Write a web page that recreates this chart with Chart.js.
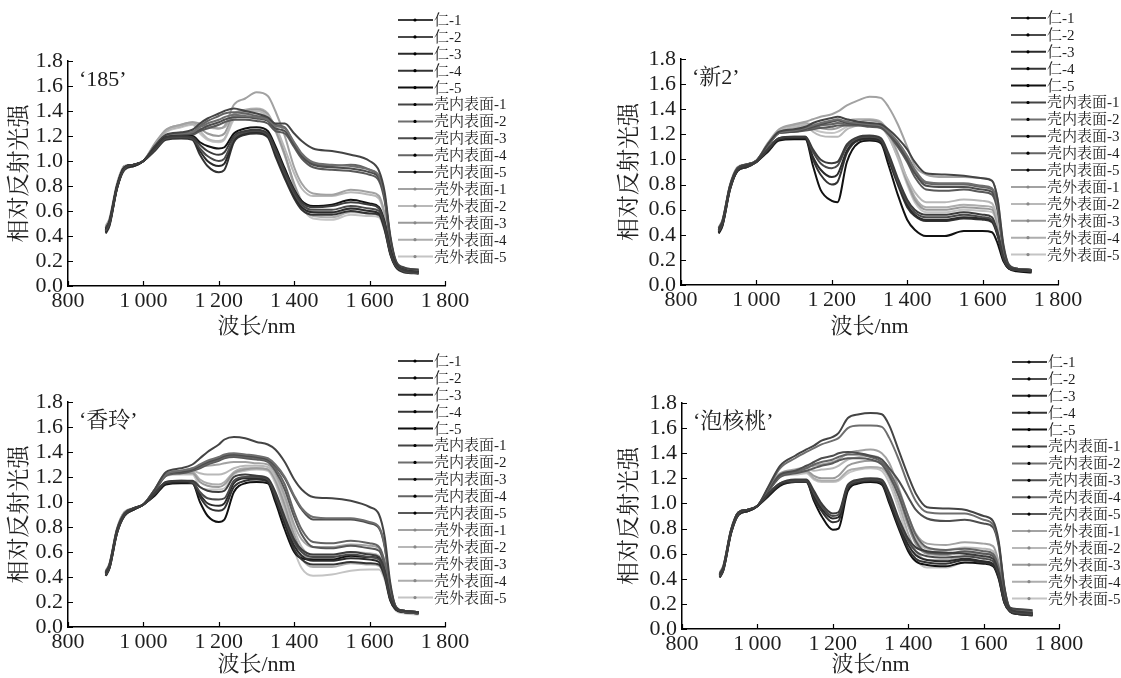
<!DOCTYPE html>
<html>
<head>
<meta charset="utf-8">
<script src="https://cdn.jsdelivr.net/npm/chart.js@4.4.0/dist/chart.umd.min.js"></script>
<style>
  body { margin: 0; background: #fff; width: 1121px; height: 678px; overflow: hidden; position: relative; }
  .panel { position: absolute; }
</style>
</head>
<body>
<div class="panel" style="left:0;top:0;width:600px;height:340px"><canvas id="c0"></canvas></div>
<div class="panel" style="left:610px;top:0;width:511px;height:340px"><canvas id="c1"></canvas></div>
<div class="panel" style="left:0;top:340px;width:600px;height:338px"><canvas id="c2"></canvas></div>
<div class="panel" style="left:610px;top:340px;width:511px;height:338px"><canvas id="c3"></canvas></div>
<script>
// wavelength (nm) at which every curve was read
const wavelengths = [900, 910, 930, 950, 975, 1000, 1030, 1060, 1100, 1130, 1150, 1170, 1200, 1215, 1240, 1270,
  1300, 1330, 1350, 1375, 1400, 1420, 1450, 1500, 1550, 1600, 1625, 1640, 1655, 1670, 1690, 1730];

const seriesNames = ['仁-1', '仁-2', '仁-3', '仁-4', '仁-5',
  '壳内表面-1', '壳内表面-2', '壳内表面-3', '壳内表面-4', '壳内表面-5',
  '壳外表面-1', '壳外表面-2', '壳外表面-3', '壳外表面-4', '壳外表面-5'];

const seriesColors = ['#3c3c3c', '#4a4a4a', '#2a2a2a', '#333333', '#111111',
  '#444444', '#6e6e6e', '#4d4d4d', '#646464', '#585858',
  '#a2a2a2', '#b8b8b8', '#9a9a9a', '#adadad', '#c4c4c4'];

const xTicks = [800, 1000, 1200, 1400, 1600, 1800];
const yTicks = [0, 0.2, 0.4, 0.6, 0.8, 1.0, 1.2, 1.4, 1.6, 1.8];

const panelTitles = ['‘185’', '‘新2’', '‘香玲’', '‘泡核桃’'];

// '185'
const lines185 = [
  [0.46,0.52,0.80,0.95,0.97,1.00,1.10,1.19,1.20,1.19,1.13,1.08,1.05,1.07,1.20,1.24,1.25,1.22,1.10,0.92,0.76,0.67,0.63,0.64,0.67,0.65,0.62,0.50,0.28,0.17,0.13,0.11],
  [0.44,0.50,0.79,0.94,0.97,1.00,1.09,1.18,1.19,1.18,1.10,1.04,1.00,1.02,1.18,1.23,1.24,1.21,1.08,0.90,0.74,0.65,0.61,0.61,0.64,0.62,0.60,0.48,0.27,0.16,0.12,0.10],
  [0.43,0.49,0.78,0.94,0.96,1.00,1.09,1.18,1.19,1.18,1.08,1.00,0.96,0.98,1.17,1.22,1.23,1.20,1.06,0.88,0.72,0.63,0.59,0.59,0.62,0.60,0.58,0.46,0.26,0.15,0.12,0.10],
  [0.42,0.48,0.78,0.93,0.96,1.00,1.08,1.17,1.18,1.17,1.05,0.96,0.91,0.93,1.15,1.21,1.22,1.19,1.04,0.86,0.70,0.61,0.57,0.57,0.60,0.58,0.57,0.45,0.25,0.15,0.11,0.10],
  [0.45,0.51,0.80,0.95,0.97,1.00,1.10,1.19,1.20,1.20,1.15,1.12,1.10,1.11,1.22,1.26,1.27,1.24,1.12,0.94,0.77,0.68,0.64,0.65,0.69,0.66,0.63,0.51,0.29,0.17,0.13,0.11],
  [0.46,0.52,0.80,0.95,0.97,1.00,1.12,1.21,1.23,1.25,1.30,1.34,1.38,1.40,1.42,1.40,1.38,1.35,1.30,1.30,1.22,1.16,1.10,1.08,1.05,1.00,0.92,0.75,0.40,0.20,0.15,0.13],
  [0.45,0.51,0.79,0.95,0.97,1.00,1.11,1.20,1.22,1.23,1.27,1.30,1.33,1.35,1.37,1.36,1.35,1.33,1.28,1.26,1.15,1.06,0.99,0.97,0.96,0.93,0.88,0.72,0.38,0.19,0.14,0.13],
  [0.44,0.50,0.79,0.94,0.97,1.00,1.11,1.20,1.21,1.22,1.25,1.28,1.31,1.33,1.35,1.35,1.34,1.32,1.26,1.24,1.13,1.04,0.97,0.95,0.94,0.91,0.86,0.70,0.37,0.19,0.14,0.12],
  [0.45,0.51,0.79,0.95,0.97,1.00,1.11,1.20,1.22,1.23,1.28,1.32,1.36,1.38,1.39,1.38,1.36,1.34,1.29,1.27,1.14,1.05,0.98,0.96,0.97,0.93,0.87,0.71,0.38,0.19,0.14,0.12],
  [0.44,0.50,0.78,0.94,0.96,1.00,1.10,1.19,1.21,1.21,1.24,1.26,1.29,1.31,1.33,1.33,1.32,1.30,1.24,1.22,1.11,1.02,0.95,0.93,0.92,0.89,0.84,0.68,0.36,0.18,0.14,0.12],
  [0.48,0.54,0.82,0.96,0.97,1.00,1.14,1.25,1.29,1.31,1.30,1.28,1.26,1.28,1.45,1.50,1.55,1.52,1.40,1.20,0.95,0.82,0.74,0.73,0.77,0.75,0.72,0.58,0.33,0.18,0.14,0.13],
  [0.47,0.53,0.81,0.96,0.97,1.00,1.13,1.24,1.28,1.30,1.24,1.18,1.16,1.18,1.35,1.39,1.40,1.36,1.28,1.10,0.90,0.78,0.72,0.72,0.75,0.73,0.70,0.56,0.32,0.17,0.14,0.13],
  [0.46,0.52,0.80,0.95,0.97,1.00,1.13,1.24,1.28,1.30,1.26,1.22,1.20,1.22,1.37,1.40,1.41,1.37,1.25,1.05,0.82,0.68,0.59,0.58,0.62,0.60,0.58,0.47,0.28,0.16,0.13,0.12],
  [0.47,0.53,0.81,0.96,0.97,1.00,1.13,1.25,1.29,1.31,1.29,1.27,1.26,1.27,1.38,1.41,1.42,1.38,1.26,1.06,0.80,0.65,0.56,0.55,0.59,0.58,0.56,0.45,0.27,0.16,0.13,0.12],
  [0.46,0.52,0.80,0.95,0.97,1.00,1.12,1.23,1.27,1.29,1.22,1.17,1.15,1.17,1.33,1.37,1.38,1.35,1.24,1.04,0.80,0.64,0.54,0.53,0.57,0.56,0.55,0.44,0.26,0.15,0.13,0.12]
];

// '新2'
const linesXin2 = [
  [0.44,0.50,0.78,0.92,0.95,0.98,1.08,1.17,1.18,1.18,1.08,1.00,0.97,0.98,1.12,1.18,1.19,1.17,1.05,0.85,0.68,0.60,0.56,0.56,0.58,0.56,0.54,0.42,0.22,0.14,0.12,0.11],
  [0.43,0.49,0.77,0.92,0.95,0.98,1.08,1.17,1.18,1.18,1.06,0.97,0.93,0.95,1.10,1.17,1.18,1.16,1.03,0.83,0.66,0.58,0.54,0.54,0.56,0.54,0.52,0.41,0.22,0.14,0.12,0.11],
  [0.42,0.48,0.77,0.91,0.95,0.98,1.07,1.16,1.17,1.17,1.02,0.92,0.86,0.88,1.07,1.16,1.17,1.15,1.02,0.82,0.64,0.56,0.52,0.52,0.54,0.53,0.51,0.40,0.21,0.13,0.12,0.11],
  [0.42,0.48,0.76,0.91,0.94,0.98,1.07,1.16,1.17,1.17,1.00,0.88,0.80,0.82,1.05,1.15,1.16,1.14,1.00,0.80,0.62,0.55,0.51,0.51,0.53,0.52,0.50,0.39,0.21,0.13,0.12,0.11],
  [0.41,0.47,0.76,0.91,0.94,0.98,1.06,1.15,1.16,1.16,0.95,0.76,0.67,0.66,0.98,1.13,1.15,1.13,0.96,0.72,0.52,0.44,0.39,0.39,0.43,0.43,0.42,0.33,0.19,0.13,0.11,0.10],
  [0.45,0.51,0.79,0.93,0.96,0.99,1.12,1.22,1.24,1.26,1.29,1.31,1.33,1.34,1.32,1.30,1.29,1.28,1.24,1.17,1.08,0.98,0.89,0.88,0.87,0.85,0.83,0.68,0.32,0.16,0.13,0.12],
  [0.44,0.50,0.78,0.93,0.96,0.99,1.11,1.21,1.23,1.25,1.27,1.29,1.31,1.32,1.30,1.29,1.28,1.27,1.22,1.14,1.03,0.92,0.82,0.81,0.81,0.79,0.77,0.63,0.30,0.15,0.13,0.12],
  [0.44,0.50,0.78,0.93,0.96,0.99,1.11,1.21,1.22,1.24,1.26,1.28,1.30,1.31,1.29,1.28,1.27,1.26,1.21,1.12,1.00,0.89,0.79,0.78,0.78,0.76,0.74,0.61,0.30,0.15,0.13,0.12],
  [0.45,0.51,0.79,0.93,0.96,0.99,1.11,1.22,1.23,1.25,1.25,1.27,1.28,1.29,1.28,1.28,1.27,1.26,1.22,1.13,1.02,0.91,0.81,0.80,0.80,0.78,0.76,0.62,0.30,0.15,0.13,0.12],
  [0.43,0.49,0.78,0.92,0.95,0.99,1.10,1.21,1.22,1.23,1.24,1.25,1.26,1.27,1.27,1.27,1.26,1.25,1.20,1.10,0.98,0.86,0.76,0.75,0.76,0.74,0.72,0.59,0.29,0.15,0.13,0.12],
  [0.46,0.52,0.80,0.94,0.96,0.99,1.13,1.24,1.28,1.30,1.32,1.34,1.36,1.38,1.43,1.47,1.50,1.49,1.42,1.28,1.10,0.95,0.88,0.86,0.86,0.85,0.83,0.68,0.33,0.16,0.13,0.12],
  [0.45,0.51,0.79,0.93,0.96,0.99,1.12,1.23,1.26,1.28,1.22,1.19,1.18,1.18,1.24,1.27,1.28,1.26,1.18,1.02,0.85,0.74,0.66,0.66,0.68,0.67,0.65,0.52,0.27,0.15,0.13,0.12],
  [0.44,0.50,0.79,0.93,0.96,0.99,1.12,1.23,1.26,1.28,1.26,1.25,1.24,1.25,1.28,1.30,1.31,1.29,1.20,1.03,0.82,0.68,0.60,0.60,0.62,0.61,0.60,0.48,0.25,0.14,0.12,0.11],
  [0.45,0.51,0.79,0.93,0.96,0.99,1.12,1.23,1.27,1.29,1.28,1.28,1.28,1.29,1.31,1.32,1.32,1.30,1.22,1.05,0.84,0.70,0.62,0.62,0.64,0.63,0.62,0.50,0.26,0.15,0.13,0.12],
  [0.44,0.50,0.78,0.93,0.96,0.99,1.11,1.22,1.25,1.27,1.24,1.22,1.21,1.22,1.26,1.28,1.29,1.27,1.19,1.01,0.80,0.66,0.58,0.58,0.60,0.59,0.58,0.47,0.25,0.14,0.12,0.11]
];

// '香玲'
const linesXiangling = [
  [0.43,0.49,0.77,0.90,0.95,0.98,1.07,1.16,1.17,1.17,1.12,1.09,1.08,1.09,1.20,1.22,1.21,1.19,1.08,0.88,0.70,0.62,0.58,0.58,0.60,0.58,0.56,0.45,0.24,0.15,0.13,0.12],
  [0.42,0.48,0.76,0.90,0.95,0.98,1.07,1.16,1.17,1.16,1.08,1.03,1.02,1.03,1.17,1.20,1.20,1.18,1.06,0.86,0.68,0.60,0.56,0.56,0.58,0.56,0.54,0.43,0.23,0.15,0.12,0.11],
  [0.42,0.48,0.76,0.90,0.94,0.98,1.06,1.15,1.16,1.16,1.06,0.99,0.97,0.99,1.15,1.19,1.19,1.17,1.05,0.84,0.65,0.57,0.53,0.53,0.55,0.54,0.52,0.42,0.22,0.14,0.12,0.11],
  [0.41,0.47,0.75,0.89,0.94,0.98,1.06,1.15,1.16,1.15,1.04,0.96,0.93,0.95,1.12,1.17,1.18,1.16,1.03,0.82,0.62,0.54,0.50,0.50,0.52,0.51,0.50,0.40,0.21,0.14,0.12,0.11],
  [0.41,0.47,0.75,0.89,0.94,0.98,1.05,1.14,1.15,1.15,1.00,0.89,0.84,0.86,1.08,1.15,1.16,1.15,1.00,0.78,0.60,0.55,0.54,0.54,0.57,0.56,0.55,0.44,0.22,0.14,0.12,0.11],
  [0.44,0.50,0.78,0.91,0.95,0.98,1.10,1.24,1.27,1.30,1.35,1.40,1.46,1.50,1.52,1.51,1.48,1.46,1.42,1.32,1.18,1.10,1.04,1.03,1.01,0.96,0.90,0.72,0.35,0.16,0.13,0.12],
  [0.44,0.50,0.78,0.91,0.95,0.98,1.10,1.22,1.25,1.27,1.30,1.33,1.36,1.38,1.39,1.38,1.37,1.35,1.30,1.20,1.05,0.95,0.88,0.87,0.87,0.84,0.80,0.65,0.32,0.16,0.13,0.12],
  [0.43,0.49,0.77,0.91,0.95,0.98,1.09,1.22,1.24,1.26,1.29,1.32,1.35,1.37,1.38,1.37,1.36,1.34,1.29,1.19,1.04,0.94,0.86,0.86,0.86,0.83,0.79,0.64,0.32,0.16,0.13,0.12],
  [0.43,0.49,0.77,0.91,0.95,0.98,1.09,1.21,1.24,1.26,1.28,1.31,1.34,1.36,1.37,1.36,1.35,1.33,1.27,1.14,0.92,0.78,0.68,0.67,0.69,0.67,0.64,0.52,0.27,0.15,0.13,0.12],
  [0.43,0.49,0.77,0.90,0.95,0.98,1.09,1.21,1.23,1.25,1.27,1.30,1.33,1.35,1.36,1.35,1.34,1.32,1.25,1.10,0.88,0.74,0.64,0.63,0.65,0.63,0.61,0.49,0.26,0.15,0.13,0.12],
  [0.45,0.51,0.79,0.92,0.95,0.98,1.10,1.23,1.25,1.27,1.28,1.29,1.30,1.31,1.32,1.32,1.31,1.30,1.23,1.05,0.82,0.70,0.64,0.64,0.66,0.65,0.63,0.51,0.26,0.15,0.13,0.12],
  [0.44,0.50,0.78,0.92,0.95,0.98,1.10,1.23,1.24,1.25,1.23,1.22,1.22,1.23,1.27,1.29,1.29,1.28,1.20,1.02,0.78,0.64,0.57,0.57,0.60,0.59,0.57,0.46,0.24,0.14,0.12,0.11],
  [0.44,0.50,0.78,0.91,0.95,0.98,1.09,1.22,1.23,1.23,1.16,1.13,1.12,1.14,1.23,1.26,1.27,1.26,1.18,0.98,0.74,0.60,0.54,0.54,0.57,0.56,0.55,0.44,0.23,0.14,0.12,0.11],
  [0.44,0.50,0.78,0.91,0.95,0.98,1.09,1.22,1.23,1.24,1.18,1.15,1.14,1.16,1.24,1.27,1.27,1.26,1.17,0.96,0.70,0.55,0.48,0.48,0.51,0.50,0.49,0.40,0.22,0.14,0.12,0.11],
  [0.43,0.49,0.77,0.91,0.94,0.98,1.09,1.21,1.22,1.22,1.12,1.10,1.10,1.11,1.22,1.25,1.26,1.25,1.15,0.92,0.62,0.47,0.41,0.42,0.45,0.46,0.46,0.38,0.21,0.13,0.11,0.10]
];

// '泡核桃'
const linesPaohetao = [
  [0.43,0.49,0.78,0.93,0.95,0.98,1.08,1.16,1.19,1.19,1.10,1.00,0.92,0.93,1.15,1.19,1.20,1.19,1.08,0.88,0.72,0.65,0.62,0.61,0.60,0.58,0.56,0.45,0.24,0.16,0.14,0.13],
  [0.42,0.48,0.77,0.92,0.95,0.98,1.08,1.16,1.18,1.18,1.08,0.98,0.90,0.91,1.14,1.18,1.19,1.18,1.06,0.86,0.70,0.62,0.58,0.57,0.58,0.56,0.54,0.44,0.23,0.15,0.13,0.12],
  [0.42,0.48,0.77,0.92,0.94,0.98,1.07,1.15,1.18,1.18,1.06,0.96,0.88,0.89,1.13,1.18,1.19,1.17,1.04,0.84,0.67,0.59,0.55,0.54,0.56,0.54,0.52,0.42,0.22,0.15,0.13,0.12],
  [0.41,0.47,0.76,0.91,0.94,0.98,1.07,1.15,1.17,1.17,1.04,0.94,0.85,0.86,1.12,1.17,1.18,1.16,1.02,0.82,0.64,0.56,0.53,0.52,0.55,0.53,0.51,0.41,0.21,0.14,0.12,0.11],
  [0.41,0.47,0.76,0.91,0.94,0.98,1.06,1.14,1.17,1.17,1.02,0.90,0.79,0.80,1.10,1.16,1.17,1.15,1.00,0.80,0.62,0.54,0.51,0.50,0.53,0.52,0.50,0.40,0.21,0.14,0.12,0.11],
  [0.44,0.50,0.79,0.93,0.95,0.98,1.14,1.30,1.38,1.43,1.46,1.50,1.53,1.56,1.68,1.71,1.72,1.71,1.62,1.42,1.22,1.08,0.97,0.96,0.95,0.90,0.86,0.70,0.34,0.17,0.16,0.15],
  [0.44,0.50,0.78,0.93,0.95,0.98,1.13,1.28,1.36,1.41,1.44,1.47,1.50,1.52,1.60,1.62,1.62,1.61,1.52,1.35,1.15,1.02,0.93,0.92,0.92,0.87,0.83,0.68,0.33,0.17,0.15,0.14],
  [0.43,0.49,0.78,0.92,0.95,0.98,1.11,1.23,1.26,1.30,1.33,1.36,1.38,1.40,1.41,1.40,1.38,1.35,1.28,1.18,1.05,0.95,0.88,0.86,0.87,0.84,0.81,0.66,0.32,0.16,0.14,0.13],
  [0.43,0.49,0.78,0.92,0.95,0.98,1.10,1.22,1.25,1.28,1.31,1.33,1.35,1.37,1.39,1.39,1.37,1.33,1.25,1.10,0.90,0.75,0.65,0.63,0.64,0.62,0.60,0.49,0.26,0.15,0.14,0.13],
  [0.43,0.49,0.77,0.92,0.94,0.98,1.10,1.21,1.24,1.26,1.28,1.30,1.32,1.34,1.36,1.36,1.35,1.31,1.22,1.06,0.85,0.70,0.61,0.60,0.62,0.60,0.58,0.47,0.25,0.15,0.13,0.12],
  [0.45,0.51,0.79,0.93,0.95,0.98,1.12,1.24,1.27,1.29,1.30,1.31,1.33,1.35,1.40,1.42,1.43,1.40,1.32,1.12,0.90,0.76,0.68,0.67,0.69,0.68,0.66,0.53,0.28,0.16,0.14,0.13],
  [0.44,0.50,0.79,0.93,0.95,0.98,1.11,1.23,1.26,1.28,1.26,1.27,1.28,1.30,1.35,1.37,1.38,1.35,1.27,1.08,0.86,0.72,0.64,0.63,0.65,0.64,0.62,0.50,0.27,0.15,0.13,0.12],
  [0.44,0.50,0.78,0.93,0.95,0.98,1.11,1.23,1.25,1.26,1.22,1.20,1.20,1.22,1.30,1.33,1.34,1.32,1.24,1.05,0.82,0.68,0.60,0.59,0.61,0.60,0.59,0.48,0.26,0.15,0.13,0.12],
  [0.44,0.50,0.78,0.92,0.95,0.98,1.10,1.22,1.24,1.25,1.20,1.18,1.18,1.19,1.26,1.28,1.29,1.28,1.20,1.00,0.76,0.62,0.55,0.55,0.58,0.57,0.56,0.46,0.25,0.14,0.12,0.11],
  [0.43,0.49,0.78,0.92,0.95,0.98,1.10,1.22,1.23,1.24,1.19,1.17,1.17,1.18,1.24,1.27,1.28,1.26,1.16,0.95,0.70,0.56,0.49,0.49,0.53,0.53,0.52,0.43,0.24,0.14,0.12,0.11]
];

const panelLines = [lines185, linesXin2, linesXiangling, linesPaohetao];

// plot box of each panel inside its canvas: left, right, top, bottom
const plotBoxes = [
  [68, 445, 61, 286],
  [71, 448, 59, 285],
  [68, 445, 62, 287],
  [72, 449, 63, 289]
];

const SERIF = '"Liberation Serif", "Noto Serif CJK SC", "Noto Sans CJK SC", serif';
const INK = '#1e1e1e';

const decor = {
  id: 'decor',
  afterDraw(chart, args, opts) {
    const { ctx, chartArea: a, scales: { x, y } } = chart;
    ctx.save();
    // inward tick marks
    ctx.strokeStyle = '#000';
    ctx.lineWidth = 1.2;
    ctx.beginPath();
    xTicks.forEach(v => {
      const px = Math.round(x.getPixelForValue(v)) + 0.5;
      ctx.moveTo(px, a.bottom);
      ctx.lineTo(px, a.bottom - 5);
    });
    yTicks.forEach(v => {
      const py = Math.round(y.getPixelForValue(v)) + 0.5;
      ctx.moveTo(a.left, py);
      ctx.lineTo(a.left + 5, py);
    });
    ctx.stroke();

    // cultivar label
    ctx.fillStyle = INK;
    ctx.font = '22px ' + SERIF;
    ctx.textBaseline = 'middle';
    ctx.textAlign = 'left';
    ctx.fillText(opts.title, a.left + 11, y.getPixelForValue(1.65));

    // legend block, overlapping the top right corner
    const lx = a.right - 47;
    const ly = a.top - 41;
    const step = 16.9;
    ctx.font = '15px ' + SERIF;
    chart.data.datasets.forEach((ds, i) => {
      const yy = ly + i * step;
      ctx.strokeStyle = ds.borderColor;
      ctx.lineWidth = 2;
      ctx.beginPath();
      ctx.moveTo(lx, yy);
      ctx.lineTo(lx + 35, yy);
      ctx.stroke();
      ctx.fillStyle = i < 10 ? '#000' : '#888';
      ctx.beginPath();
      ctx.arc(lx + 17, yy, 1.6, 0, Math.PI * 2);
      ctx.fill();
      ctx.fillStyle = INK;
      ctx.fillText(ds.label, lx + 36, yy + 1);
    });
    ctx.restore();
  }
};

function makeChart(idx) {
  const canvas = document.getElementById('c' + idx);
  const box = plotBoxes[idx];
  const panelW = canvas.parentNode.clientWidth;
  const panelH = canvas.parentNode.clientHeight;
  const datasets = seriesNames.map((name, s) => ({
    label: name,
    data: wavelengths.map((w, k) => ({ x: w, y: panelLines[idx][s][k] })),
    borderColor: seriesColors[s],
    backgroundColor: seriesColors[s],
    borderWidth: 2,
    pointRadius: 0,
    cubicInterpolationMode: 'monotone'
  }));
  // draw light series first so the dark ones stay on top
  datasets.forEach((d, s) => { d.order = s < 5 ? 0 : (s < 10 ? 1 : 2); });

  return new Chart(canvas, {
    type: 'line',
    data: { datasets },
    options: {
      responsive: true,
      maintainAspectRatio: false,
      animation: false,
      layout: { padding: { left: 0, top: box[2], right: panelW - box[1], bottom: 0 } },
      plugins: {
        legend: { display: false },
        tooltip: { enabled: false },
        decor: { title: panelTitles[idx] }
      },
      scales: {
        x: {
          type: 'linear',
          min: 800,
          max: 1800,
          afterBuildTicks: sc => { sc.ticks = xTicks.map(v => ({ value: v })); },
          afterFit: sc => { sc.height = panelH - box[3]; },
          grid: { display: false, drawTicks: false },
          border: { display: true, color: '#000', width: 1.5 },
          ticks: {
            color: INK,
            padding: 2,
            maxRotation: 0,
            autoSkip: false,
            font: { family: SERIF, size: 22 },
            callback: v => v >= 1000 ? Math.floor(v / 1000) + '\u2009' + String(v % 1000).padStart(3, '0') : String(v)
          },
          title: {
            display: true,
            text: '波长/nm',
            color: INK,
            font: { family: SERIF, size: 22 },
            padding: { top: 0, bottom: 0 }
          }
        },
        y: {
          min: 0,
          max: 1.8,
          afterBuildTicks: sc => { sc.ticks = yTicks.map(v => ({ value: v })); },
          afterFit: sc => { sc.width = box[0]; },
          grid: { display: false, drawTicks: false },
          border: { display: true, color: '#000', width: 1.5 },
          ticks: {
            color: INK,
            padding: 5,
            autoSkip: false,
            font: { family: SERIF, size: 22 },
            callback: v => v.toFixed(1)
          },
          title: {
            display: true,
            text: '相对反射光强',
            color: INK,
            font: { family: SERIF, size: 23 },
            padding: { top: 6, bottom: 0 }
          }
        }
      }
    },
    plugins: [decor]
  });
}

[0, 1, 2, 3].forEach(makeChart);
</script>
</body>
</html>
